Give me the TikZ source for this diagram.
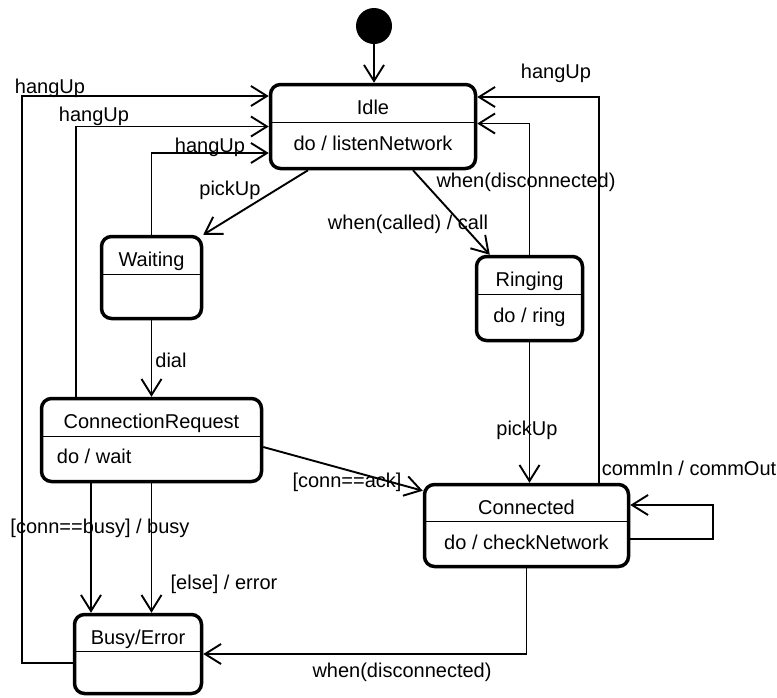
\documentclass[tikz,border=0pt]{standalone}
\usepackage{fontspec}
\setmainfont{Liberation Sans}
\usetikzlibrary{arrows.meta,calc}
\begin{document}
\begin{tikzpicture}[x=1pt,y=-1pt,
  state/.style={draw, line width=3.5pt, rounded corners=10pt, inner sep=0pt},
  txt/.style={inner sep=0pt, text height=14.5pt, text depth=4.2pt, font=\fontsize{20pt}{24pt}\selectfont},
  divider/.style={line width=1.1pt},
  trans/.style={line width=1.9pt, -{Straight Barb[length=16pt,width=20pt,line width=1.9pt]}}
]
\useasboundingbox (0,0) rectangle (777,697);

% initial state
\node[circle, fill, minimum size=36pt, inner sep=0pt] (init) at (374,26) {};

% states
\node[state, minimum width=205pt, minimum height=84pt] (idle) at (373,126.5) {};
\node[txt] (idleT) at ([yshift=-27pt]idle.north) {Idle};
\draw[divider] ([yshift=-40pt]idle.north west) -- ([yshift=-40pt]idle.north east);
\node[txt] (idleB) at ([yshift=-63pt]idle.north) {do / listenNetwork};

\node[state, minimum width=100pt, minimum height=82pt] (waiting) at (151.5,277.5) {};
\node[txt] (waitingT) at ([yshift=-27pt]waiting.north) {Waiting};
\draw[divider] ([yshift=-40pt]waiting.north west) -- ([yshift=-40pt]waiting.north east);

\node[state, minimum width=106pt, minimum height=84pt] (ringing) at (529.5,298.5) {};
\node[txt] (ringingT) at ([yshift=-27pt]ringing.north) {Ringing};
\draw[divider] ([yshift=-40pt]ringing.north west) -- ([yshift=-40pt]ringing.north east);
\node[txt] (ringingB) at ([yshift=-63pt]ringing.north) {do / ring};

\node[state, minimum width=220pt, minimum height=83pt] (connreq) at (151.5,440) {};
\node[txt] (connreqT) at ([yshift=-27pt]connreq.north) {ConnectionRequest};
\draw[divider] ([yshift=-40pt]connreq.north west) -- ([yshift=-40pt]connreq.north east);
\node[txt, anchor=west] (connreqB) at ([xshift=17pt,yshift=-62pt]connreq.north west) {do / wait};

\node[state, minimum width=204pt, minimum height=82pt] (connected) at (526.5,525.5) {};
\node[txt] (connectedT) at ([yshift=-27pt]connected.north) {Connected};
\draw[divider] ([yshift=-39pt]connected.north west) -- ([yshift=-39pt]connected.north east);
\node[txt] (connectedB) at ([yshift=-62pt]connected.north) {do / checkNetwork};

\node[state, minimum width=127pt, minimum height=79pt] (busy) at (138,654) {};
\node[txt] (busyT) at ([yshift=-27pt]busy.north) {Busy/Error};
\draw[divider] ([yshift=-39pt]busy.north west) -- ([yshift=-39pt]busy.north east);

% helper coordinates
\coordinate (cb1) at ([xshift=-60.5pt]connreq.south);
\coordinate (cb2) at (connreq.south);

% transitions
\draw[trans] (init) -- (init |- idle.north);
\draw[trans] ([xshift=-65pt]idle.south) -- (waiting.north east);
\draw[trans] ([xshift=40pt]idle.south) -- ([xshift=15pt]ringing.north west);
\draw[trans] (ringing.north) |- ([yshift=3pt]idle.east);
\draw[trans] ([xshift=72.5pt]connected.north) |- ([yshift=29.5pt]idle.east);
\draw[trans] (waiting.north) |- ([yshift=-26.5pt]idle.west);
\draw[trans] ([xshift=-75.5pt]connreq.north) |- (idle.west);
\draw[trans] ([yshift=-9pt]busy.west) -- ++(-51,0) |- ([yshift=30.5pt]idle.west);
\draw[trans] (waiting.south) -- (waiting.south |- connreq.north);
\draw[trans] (ringing.south) -- (ringing.south |- connected.north);
\draw[trans] ([yshift=-7pt]connreq.east) -- ([yshift=-8pt]connected.north west);
\draw[trans] (cb1) -- (cb1 |- busy.north);
\draw[trans] (cb2) -- (cb2 |- busy.north);
\draw[trans] (connected.south) |- (busy.east);
\draw[trans] ([yshift=-13.5pt]connected.east) -- ++(83,0) |- ([yshift=20.5pt]connected.east);

% labels
\node[txt] (l1) at (230,190) {pickUp};
\node[txt] (l2) at (408,224) {when(called) / call};
\node[txt] (l3) at (526,182) {when(disconnected)};
\node[txt] (l4) at (556,73) {hangUp};
\node[txt] (l5) at (210,147) {hangUp};
\node[txt] (l6) at (94,116) {hangUp};
\node[txt] (l7) at (50,88) {hangUp};
\node[txt] (l8) at (171,362) {dial};
\node[txt] (l9) at (527,430) {pickUp};
\node[txt] (l10) at (347,482) {[conn==ack]};
\node[txt] (l11) at (100,528) {[conn==busy] / busy};
\node[txt] (l12) at (224,584) {[else] / error};
\node[txt] (l13) at (402,672) {when(disconnected)};
\node[txt] (l14) at (689,470) {commIn / commOut};
\end{tikzpicture}
\end{document}
